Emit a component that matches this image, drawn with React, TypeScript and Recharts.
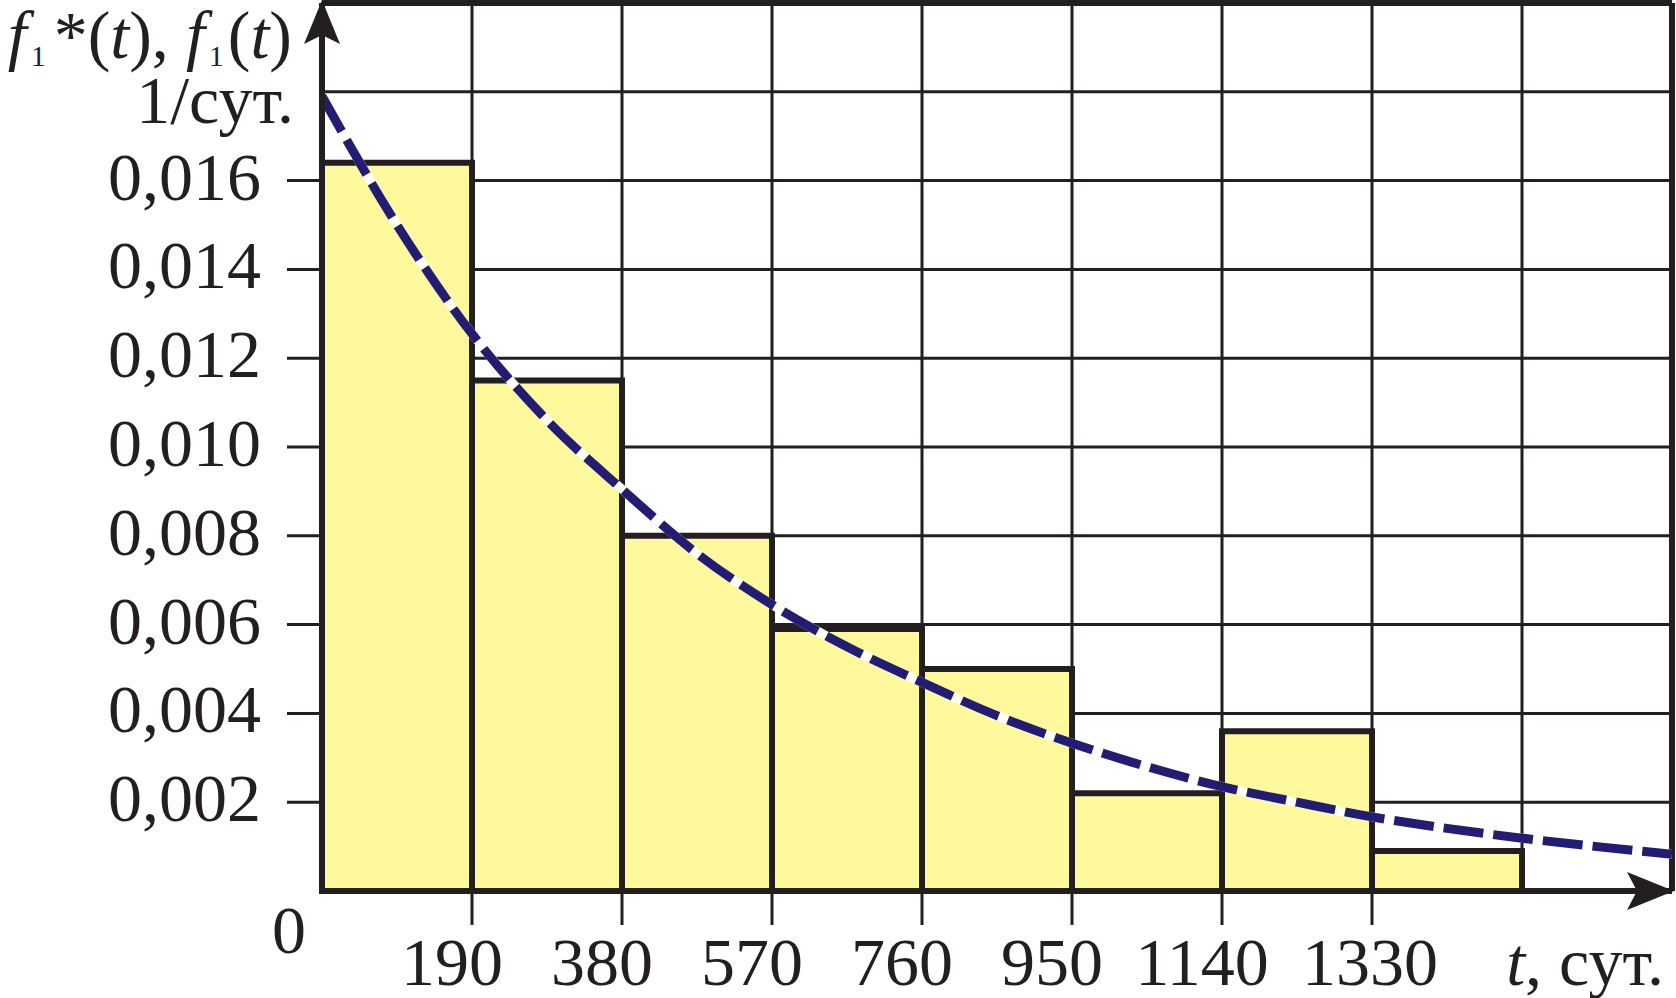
import React from "react"
import {
    ComposedChart,
    Line,
    XAxis,
    YAxis,
    CartesianGrid,
    ReferenceLine,
    ReferenceArea,
} from "recharts"

// time points, days (step 95 = half of a 190-day bin)
const tDays = [0, 95, 190, 285, 380, 475, 570, 665, 760, 855, 950, 1045, 1140, 1235, 1330, 1425, 1520, 1615, 1710]
// f1(t), theoretical density
const densityCurve = [0.0179, 0.0150, 0.01255, 0.0106, 0.00905, 0.0076, 0.00645, 0.0055, 0.0047, 0.00395, 0.00333, 0.0028, 0.00235, 0.0020, 0.00167, 0.00141, 0.00119, 0.0010, 0.00083]
// f1*(t), histogram: bin starts (width 190 days) and heights
const binStarts = [0, 190, 380, 570, 760, 950, 1140, 1330]
const binWidth = 190
const histBins = [0.0164, 0.0115, 0.008, 0.0059, 0.005, 0.0022, 0.0036, 0.0009]

const xTicks = [0, 190, 380, 570, 760, 950, 1140, 1330, 1520, 1710]
const xLabeled = [190, 380, 570, 760, 950, 1140, 1330]
const yTicks = [0, 0.002, 0.004, 0.006, 0.008, 0.01, 0.012, 0.014, 0.016, 0.018, 0.02]
const yLabeled = [0.002, 0.004, 0.006, 0.008, 0.01, 0.012, 0.014, 0.016]

const tableData = tDays.map((t, i) => ({ t, f: densityCurve[i] }))

const INK = "#231f20"
const FONT = "'Liberation Serif', 'Times New Roman', serif"

function XTick(props: any) {
    const { x, y, payload } = props
    const v = payload.value
    if (v === 0) {
        return (
            <text x={x - 33} y={y + 62} textAnchor="middle" fontSize={68} fontFamily={FONT} fill={INK}>
                0
            </text>
        )
    }
    if (!xLabeled.includes(v)) return null
    const shift = v === 1330 ? -2 : -20
    return (
        <g>
            <line x1={x} y1={y} x2={x} y2={y + 34} stroke={INK} strokeWidth={3} />
            <text x={x + shift} y={y + 94} textAnchor="middle" fontSize={68} fontFamily={FONT} fill={INK}>
                {v}
            </text>
        </g>
    )
}

function YTick(props: any) {
    const { x, y, payload } = props
    const v = payload.value
    if (!yLabeled.some((l) => Math.abs(l - v) < 1e-9)) return null
    return (
        <g>
            <line x1={x - 35} y1={y} x2={x} y2={y} stroke={INK} strokeWidth={3} />
            <text x={x - 61} y={y + 19} textAnchor="end" fontSize={68} fontFamily={FONT} fill={INK}>
                {v.toFixed(3).replace(".", ",")}
            </text>
        </g>
    )
}

function YTitle() {
    return (
        <g fontFamily={FONT} fill={INK}>
            <text x={292} y={58} textAnchor="end" fontSize={68}>
                <tspan fontStyle="italic">f</tspan>
                <tspan fontSize={30} dx={4} dy={8}>1</tspan>
                <tspan dx={8} dy={-8}>*(</tspan>
                <tspan fontStyle="italic">t</tspan>
                <tspan>), </tspan>
                <tspan fontStyle="italic">f</tspan>
                <tspan fontSize={30} dx={4} dy={8}>1</tspan>
                <tspan dx={4} dy={-8}>(</tspan>
                <tspan fontStyle="italic">t</tspan>
                <tspan>)</tspan>
            </text>
            <text x={294} y={123} textAnchor="end" fontSize={68}>
                1/сут.
            </text>
            <polygon points="322,0 340,44 322,35 304,44" fill={INK} />
        </g>
    )
}

function XTitle() {
    return (
        <g fontFamily={FONT} fill={INK}>
            <text x={1664} y={985} textAnchor="end" fontSize={68}>
                <tspan fontStyle="italic">t</tspan>
                <tspan>, сут.</tspan>
            </text>
            <polygon points="1674,891 1627,872 1637,891 1627,910" fill={INK} />
        </g>
    )
}

export default function App() {
    return (
        <div style={{ position: "absolute", left: 0, top: 0, background: "#fff" }}>
            <ComposedChart
                width={1676}
                height={998}
                data={tableData}
                margin={{ top: 3, right: 4, bottom: 0, left: 0 }}
            >
                <CartesianGrid stroke={INK} strokeWidth={3} strokeOpacity={1} />
                <XAxis
                    dataKey="t"
                    type="number"
                    domain={[0, 1710]}
                    ticks={xTicks}
                    interval={0}
                    height={107}
                    tickSize={0}
                    tickMargin={0}
                    tickLine={false}
                    axisLine={{ stroke: INK, strokeWidth: 6 }}
                    tick={<XTick />}
                    label={{ content: () => <XTitle /> }}
                    allowDataOverflow
                />
                <YAxis
                    type="number"
                    domain={[0, 0.02]}
                    ticks={yTicks}
                    interval={0}
                    width={322}
                    tickSize={0}
                    tickMargin={0}
                    tickLine={false}
                    axisLine={{ stroke: INK, strokeWidth: 6 }}
                    tick={<YTick />}
                    label={{ content: () => <YTitle /> }}
                    allowDataOverflow
                />
                <ReferenceLine y={0.02} stroke={INK} strokeWidth={6} />
                <ReferenceLine x={1710} stroke={INK} strokeWidth={6} />
                {binStarts.map((lo, i) => (
                    <ReferenceArea
                        key={lo}
                        x1={lo}
                        x2={lo + binWidth}
                        y1={0}
                        y2={histBins[i]}
                        fill="#fff99e"
                        fillOpacity={1}
                        stroke={INK}
                        strokeWidth={6}
                        ifOverflow="visible"
                    />
                ))}
                <Line
                    dataKey="f"
                    type="monotone"
                    stroke="#ffffff"
                    strokeWidth={9}
                    dot={false}
                    activeDot={false}
                    isAnimationActive={false}
                />
                <Line
                    dataKey="f"
                    type="monotone"
                    stroke="#221c72"
                    strokeWidth={9}
                    strokeDasharray="40 10"
                    dot={false}
                    activeDot={false}
                    isAnimationActive={false}
                />
            </ComposedChart>
        </div>
    )
}
